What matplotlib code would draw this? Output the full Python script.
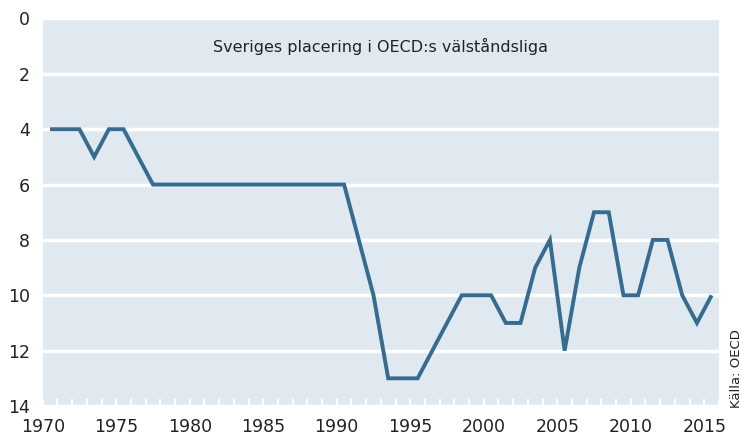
import matplotlib
matplotlib.use('Agg')
import matplotlib.pyplot as plt
from matplotlib.ticker import MultipleLocator

years = list(range(1970, 2016))
placering = [4, 4, 4, 5, 4, 4, 5, 6, 6, 6,
             6, 6, 6, 6, 6, 6, 6, 6, 6, 6,
             6, 8, 10, 13, 13, 13, 12, 11, 10, 10,
             10, 11, 11, 9, 8, 12, 9, 7, 7, 10,
             10, 8, 8, 10, 11, 10]
y_ticks = [0, 2, 4, 6, 8, 10, 12, 14]
x_ticks = list(range(1970, 2016, 5))
title = 'Sveriges placering i OECD:s välståndsliga'
source = 'Källa: OECD'

bg = '#e1e9f0'
line_color = '#356c8f'
text_color = '#222222'

fig = plt.figure(figsize=(7.42, 4.41), dpi=100)
ax = fig.add_axes([42.7 / 742, 1 - 406 / 441, (719 - 42.7) / 742, (406 - 18.5) / 441])
ax.set_facecolor(bg)

# points sit in the middle of each year's band
ax.plot([y + 0.5 for y in years], placering, color=line_color, lw=2.8,
        solid_joinstyle='miter', solid_capstyle='butt', zorder=3)

ax.set_xlim(1970, 2016)
ax.set_ylim(14, 0)
ax.set_yticks(y_ticks)
ax.set_xticks(x_ticks)
ax.xaxis.set_minor_locator(MultipleLocator(1))
ax.grid(axis='y', color='white', lw=2.5, zorder=1)

for s in ax.spines.values():
    s.set_visible(False)

ax.tick_params(axis='y', length=0, pad=9, labelsize=12.5, labelcolor=text_color)
ax.tick_params(axis='x', which='both', direction='in', length=5, width=1.5,
               color='white', pad=9, labelsize=12.5, labelcolor=text_color)

ax.text(0.5, 1.0, title, transform=ax.get_yaxis_transform(), ha='center',
        va='center', fontsize=11.5, color=text_color)
fig.text(736 / 742, 1 - 408 / 441, source, rotation=90, ha='center', va='bottom',
         fontsize=9.5, color=text_color)

fig.savefig('out.png', dpi=100)
